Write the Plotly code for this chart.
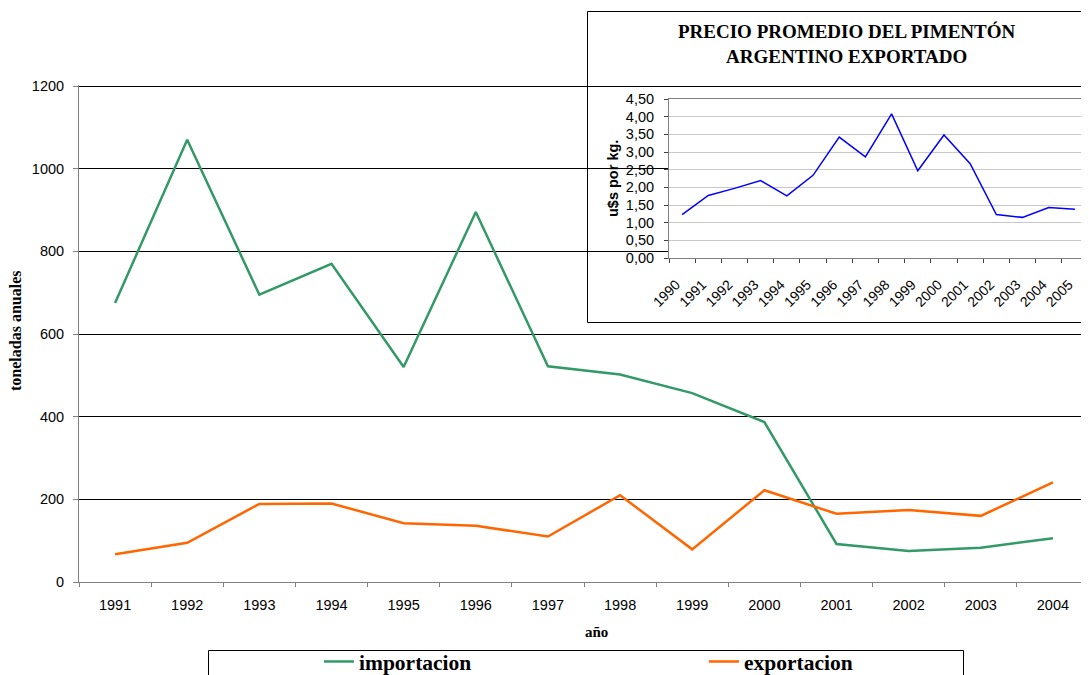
import plotly.graph_objects as go

# ---- data ----
years = ["1991", "1992", "1993", "1994", "1995", "1996", "1997",
         "1998", "1999", "2000", "2001", "2002", "2003", "2004"]
importacion = [675, 1070, 695, 770, 520, 895, 522, 502, 457, 387, 92, 75, 83, 106]
exportacion = [67, 95, 189, 190, 142, 136, 110, 210, 79, 222, 165, 174, 160, 241]

inset_years = ["1990", "1991", "1992", "1993", "1994", "1995", "1996", "1997",
               "1998", "1999", "2000", "2001", "2002", "2003", "2004", "2005"]
precio = [1.23, 1.77, 1.97, 2.19, 1.76, 2.34, 3.42, 2.86, 4.08, 2.47,
          3.48, 2.67, 1.23, 1.15, 1.43, 1.38]

# ---- layout geometry ----
# the page body adds an 8px offset, so the figure is 8px smaller and
# all positions below are given in page pixels
OFF = 8
W, H = 1089 - OFF, 675 - OFF
L, R, T, B = 79 - OFF, 0, 11 - OFF, 93
pw = W - L - R          # 1010
ph = H - T - B          # 571
def px_x(x):
    return (x - 79) / pw
def px_y(y):
    return (582 - y) / ph

YMAX = 1203
main_top = 496 * YMAX / 1200 / ph

SERIF = "Liberation Serif, Times New Roman, serif"
SANS = "Liberation Sans, Arial, sans-serif"

fig = go.Figure()
fig.add_trace(go.Scatter(x=years, y=importacion, mode="lines", name="<b>importacion</b>",
                         line=dict(color="#339966", width=2.5), xaxis="x", yaxis="y"))
fig.add_trace(go.Scatter(x=years, y=exportacion, mode="lines", name="<b>exportacion</b>",
                         line=dict(color="#FF6600", width=2.5), xaxis="x", yaxis="y"))
fig.add_trace(go.Scatter(x=inset_years, y=precio, mode="lines", showlegend=False,
                         line=dict(color="#0000FF", width=1.5), xaxis="x3", yaxis="y3"))

fig.update_layout(
    width=W, height=H,
    margin=dict(l=L, r=R, t=T, b=B, pad=0, autoexpand=False),
    paper_bgcolor="white", plot_bgcolor="white",
    separators=",.",
    font=dict(family=SANS, size=14, color="black"),
    xaxis=dict(domain=[0, 1], type="category", range=[-0.5, 13.5], anchor="y",
               showgrid=False, zeroline=False, showline=True, linecolor="#808080",
               linewidth=1, ticks="outside", ticklen=4, tickcolor="#808080",
               tickson="boundaries", ticklabelstandoff=10,
               tickfont=dict(family=SANS, size=14.5)),
    yaxis=dict(domain=[0, main_top], range=[0, YMAX],
               tickvals=[0, 200, 400, 600, 800, 1000, 1200], anchor="x",
               showgrid=True, gridcolor="black", gridwidth=1, zeroline=False,
               showline=True, linecolor="#808080", linewidth=1, ticks="outside",
               ticklen=5, tickcolor="#808080", ticklabelstandoff=6,
               tickfont=dict(family=SANS, size=14.5)),
    # cover panel behind the inset (white background over the main grid)
    xaxis2=dict(domain=[px_x(587), 1.0], anchor="y2", range=[0, 1], showgrid=False,
                zeroline=False, showticklabels=False, ticks="", showline=False,
                fixedrange=True),
    yaxis2=dict(domain=[px_y(322), 1.0], anchor="x2", range=[0, 1], showgrid=False,
                zeroline=False, showticklabels=False, ticks="", showline=False,
                fixedrange=True),
    # inset chart
    xaxis3=dict(domain=[px_x(669), px_x(1088)], anchor="y3", type="category",
                range=[-0.5, 15.5], showgrid=False, zeroline=False, showline=True,
                mirror=True, linecolor="#808080", linewidth=1, ticks="outside",
                ticklen=4, tickcolor="#404040", tickson="boundaries", tickangle=-45,
                ticklabelstandoff=12, ticklabelshift=-6,
                tickfont=dict(family=SANS, size=14)),
    yaxis3=dict(domain=[px_y(258), px_y(99)], anchor="x3", range=[0, 4.5], dtick=0.5,
                tickformat=".2f", showgrid=True, gridcolor="#c8c8c8", gridwidth=1,
                zeroline=False, showline=True, mirror=True, linecolor="#808080",
                linewidth=1, ticks="outside", ticklen=4, tickcolor="#404040",
                ticklabelstandoff=7, tickfont=dict(family=SANS, size=14.5)),
    legend=dict(orientation="h", x=px_x(319), y=px_y(641), xanchor="left",
                yanchor="top", entrywidth=340, entrywidthmode="pixels",
                itemwidth=30, bgcolor="rgba(0,0,0,0)", borderwidth=0,
                font=dict(family=SERIF, size=21.5, color="black")),
    showlegend=True,
    shapes=[
        dict(type="rect", xref="paper", yref="paper",
             x0=px_x(208.5), x1=px_x(963.5), y0=px_y(700), y1=px_y(650.5),
             line=dict(color="black", width=1), fillcolor="rgba(0,0,0,0)",
             layer="above"),
        dict(type="rect", xref="paper", yref="paper",
             x0=px_x(587.5), x1=px_x(1100), y0=px_y(322.5), y1=px_y(11.5),
             line=dict(color="black", width=1), fillcolor="rgba(0,0,0,0)",
             layer="above"),
    ],
    annotations=[
        dict(text="<b>año</b>", xref="paper", yref="paper", x=px_x(596.5), y=px_y(632),
             showarrow=False, xanchor="center", yanchor="middle",
             font=dict(family=SERIF, size=15, color="black")),
        dict(text="<b>toneladas anuales</b>", xref="paper", yref="paper",
             x=px_x(15), y=px_y(331), textangle=-90, showarrow=False,
             xanchor="center", yanchor="middle",
             font=dict(family=SERIF, size=16, color="black")),
        dict(text="<b>PRECIO PROMEDIO DEL PIMENTÓN<br>ARGENTINO EXPORTADO</b>",
             xref="paper", yref="paper", x=px_x(847), y=px_y(44), showarrow=False,
             xanchor="center", yanchor="middle",
             font=dict(family=SERIF, size=19, color="black")),
        dict(text="<b>u$s por kg.</b>", xref="paper", yref="paper", x=px_x(613),
             y=px_y(179), textangle=-90, showarrow=False, xanchor="center",
             yanchor="middle", font=dict(family=SANS, size=14.5, color="black")),
    ],
)

fig.write_html("out.html")
